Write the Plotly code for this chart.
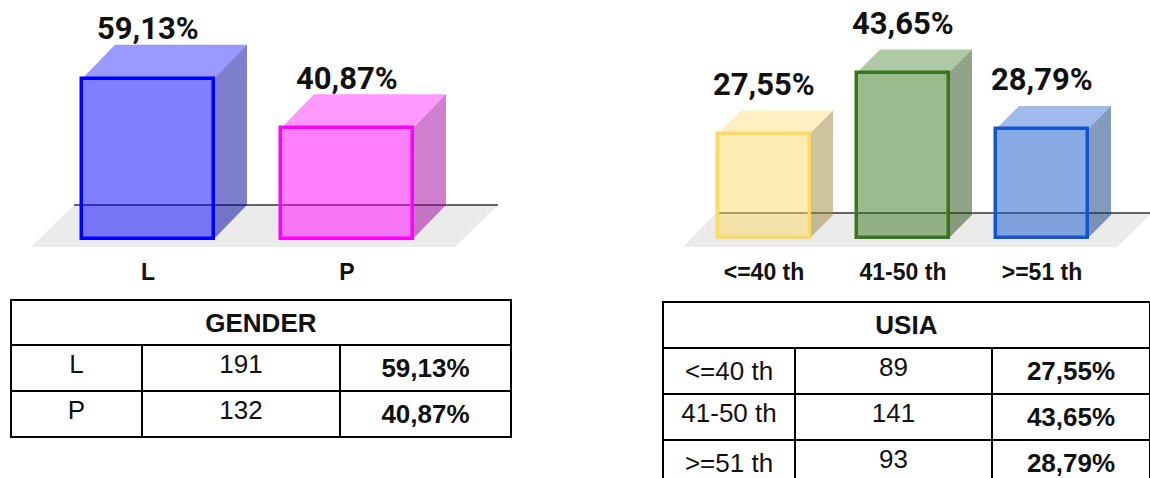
import plotly.graph_objects as go

W, H = 1150, 478

# ---------------- data ----------------
gender_cats = ["L", "P"]
gender_counts = [191, 132]
gender_pct = [59.13, 40.87]

age_cats = ["<=40 th", "41-50 th", ">=51 th"]
age_counts = [89, 141, 93]
age_pct = [27.55, 43.65, 28.79]

gender_rgb = [(0, 0, 255), (255, 0, 255)]
age_rgb = [(255, 217, 102), (56, 118, 29), (17, 85, 204)]


def fmt(p):
    return f"{p:.2f}".replace(".", ",") + "%"


def rgba(c, a, k=1.0):
    return f"rgba({int(c[0]*k)},{int(c[1]*k)},{int(c[2]*k)},{a})"


fig = go.Figure()

# chart layout parameters (pixels)
charts = [
    dict(cats=gender_cats, vals=gender_pct, rgb=gender_rgb, base="", over="2",
         rx0=0, rx1=520, c0=148, pxx=199, zero=239, pxy=2.71, bottom=256,
         ddx=33, ddy=34, w=0.663, f_front=8, f_back=34,
         f_fx=(31, 455), f_bx=(74, 498), lab_shift=16),
    dict(cats=age_cats, vals=age_pct, rgb=age_rgb, base="3", over="4",
         rx0=660, rx1=1150, c0=764, pxx=139, zero=238, pxy=3.79, bottom=256,
         ddx=23, ddy=23, w=0.662, f_front=9, f_back=25,
         f_fx=(683, 1117), f_bx=(716, 1152), lab_shift=26),
]

shapes = []
annotations = []
for ch in charts:
    b, o = ch["base"], ch["over"]
    rx0, rx1, c0 = ch["rx0"], ch["rx1"], ch["c0"]
    zero, bottom = ch["zero"], ch["bottom"]
    xr = [(rx0 - c0) / ch["pxx"], (rx1 - c0) / ch["pxx"]]
    yr = [-(bottom - zero) / ch["pxy"], zero / ch["pxy"]]
    xdom = [rx0 / W, rx1 / W]
    ydom = [(H - bottom) / H, 1]
    dx = ch["ddx"] / ch["pxx"]
    dy = ch["ddy"] / ch["pxy"]
    xb, yb, xo, yo = "x" + b, "y" + b, "x" + o, "y" + o

    def ux(px, c0=c0, pxx=ch["pxx"]):
        return (px - c0) / pxx

    fy0 = -ch["f_front"] / ch["pxy"]
    fy1 = ch["f_back"] / ch["pxy"]
    # floor
    shapes.append(dict(type="path", xref=xb, yref=yb, layer="below",
                       path=f"M {ux(ch['f_fx'][0])},{fy0} L {ux(ch['f_fx'][1])},{fy0} "
                            f"L {ux(ch['f_bx'][1])},{fy1} L {ux(ch['f_bx'][0])},{fy1} Z",
                       fillcolor="#ebebeb", line=dict(width=0)))
    # baseline
    shapes.append(dict(type="line", xref=xb, yref=yb, layer="below",
                       x0=ux(ch["f_bx"][0]), x1=ux(ch["f_bx"][1]), y0=fy1, y1=fy1,
                       line=dict(color="#333333", width=1.3)))

    w = ch["w"]
    for i, (v, c) in enumerate(zip(ch["vals"], ch["rgb"])):
        xl, xrr = i - w / 2, i + w / 2
        # side face
        fig.add_trace(go.Scatter(
            x=[xrr, xrr + dx, xrr + dx, xrr, xrr], y=[0, dy, v + dy, v, 0],
            xaxis=xb, yaxis=yb, mode="lines", fill="toself",
            fillcolor=rgba(c, 0.5, 0.63), line=dict(width=0),
            hoverinfo="skip", showlegend=False))
        # top face
        fig.add_trace(go.Scatter(
            x=[xl, xrr, xrr + dx, xl + dx, xl], y=[v, v, v + dy, v + dy, v],
            xaxis=xb, yaxis=yb, mode="lines", fill="toself",
            fillcolor=rgba(c, 0.4), line=dict(width=0),
            hoverinfo="skip", showlegend=False))
        annotations.append(dict(x=i, y=v + dy, xref=xb, yref=yb, text=fmt(v),
                                showarrow=False, yanchor="middle", yshift=ch["lab_shift"],
                                font=dict(family="Roboto", size=31, color="#111111",
                                          weight="bold")))
    # front faces
    fig.add_trace(go.Bar(
        x=list(range(len(ch["vals"]))), y=ch["vals"], width=w,
        xaxis=xo, yaxis=yo,
        marker=dict(color=[rgba(c, 0.5) for c in ch["rgb"]],
                    line=dict(color=[rgba(c, 1) for c in ch["rgb"]], width=3.5)),
        hoverinfo="skip", showlegend=False))

    ax_b = dict(domain=xdom, range=xr, anchor=yb, showgrid=False, zeroline=False,
                showline=False, ticks="", tickvals=list(range(len(ch["cats"]))),
                ticktext=ch["cats"],
                tickfont=dict(family="Liberation Sans", size=23, color="#111111",
                              weight="bold"))
    ay_b = dict(domain=ydom, range=yr, anchor=xb, visible=False)
    ax_o = dict(range=xr, overlaying=xb, anchor=yo, visible=False)
    ay_o = dict(range=yr, overlaying=yb, anchor=xo, visible=False)
    fig.update_layout(**{"xaxis" + b: ax_b, "yaxis" + b: ay_b,
                         "xaxis" + o: ax_o, "yaxis" + o: ay_o})

# ---------------- tables ----------------
tfont = dict(family="Liberation Sans", size=26, color="#111111")
tline = dict(color="black", width=2)
tables = [
    dict(title="GENDER", cats=gender_cats, counts=gender_counts, pct=gender_pct,
         x0=11, x1=511, top=300, hh=45, r1=46, rh=44, cw=[131, 198, 171]),
    dict(title="USIA", cats=age_cats, counts=age_counts, pct=age_pct,
         x0=663, x1=1162, top=302, hh=46, r1=44, rh=45, cw=[132, 197, 170]),
]
for t in tables:
    x0 = t["x0"]
    x1 = min(W, t["x1"])
    cw = list(t["cw"])
    cw[-1] -= t["x1"] - x1
    xd = [x0 / W, x1 / W]
    htop = t["top"]
    hbot = htop + t["hh"]
    # title row (its filler row is covered by the body table drawn afterwards)
    fig.add_trace(go.Table(
        domain=dict(x=xd, y=[max(0, (H - hbot - 70) / H), (H - htop) / H]),
        header=dict(values=[f"<b>{t['title']}</b>"], height=t["hh"], line=tline,
                    fill=dict(color="white"), align="center", font=tfont),
        cells=dict(values=[[""]], height=20, line=dict(color="white", width=0),
                   fill=dict(color="white"), font=tfont)))
    rows = [[str(c), str(n), f"<b>{fmt(p)}</b>"]
            for c, n, p in zip(t["cats"], t["counts"], t["pct"])]
    bbot = hbot + t["r1"] + t["rh"] * (len(rows) - 1) + 4
    fig.add_trace(go.Table(
        domain=dict(x=xd, y=[max(0, (H - bbot) / H), (H - hbot) / H]),
        columnwidth=cw,
        header=dict(values=rows[0], height=t["r1"], line=tline,
                    fill=dict(color="white"), align="center", font=tfont),
        cells=dict(values=[list(col) for col in zip(*rows[1:])],
                   height=t["rh"], line=tline,
                   fill=dict(color="white"), align="center", font=tfont)))

fig.update_layout(width=W, height=H, margin=dict(l=0, r=0, t=0, b=0),
                  paper_bgcolor="white", plot_bgcolor="rgba(0,0,0,0)",
                  shapes=shapes, annotations=annotations, showlegend=False,
                  bargap=0)

fig.write_html("out.html", config={"displayModeBar": False},
               post_script="document.body.style.margin='0';"
                           "document.documentElement.style.overflow='hidden';")
